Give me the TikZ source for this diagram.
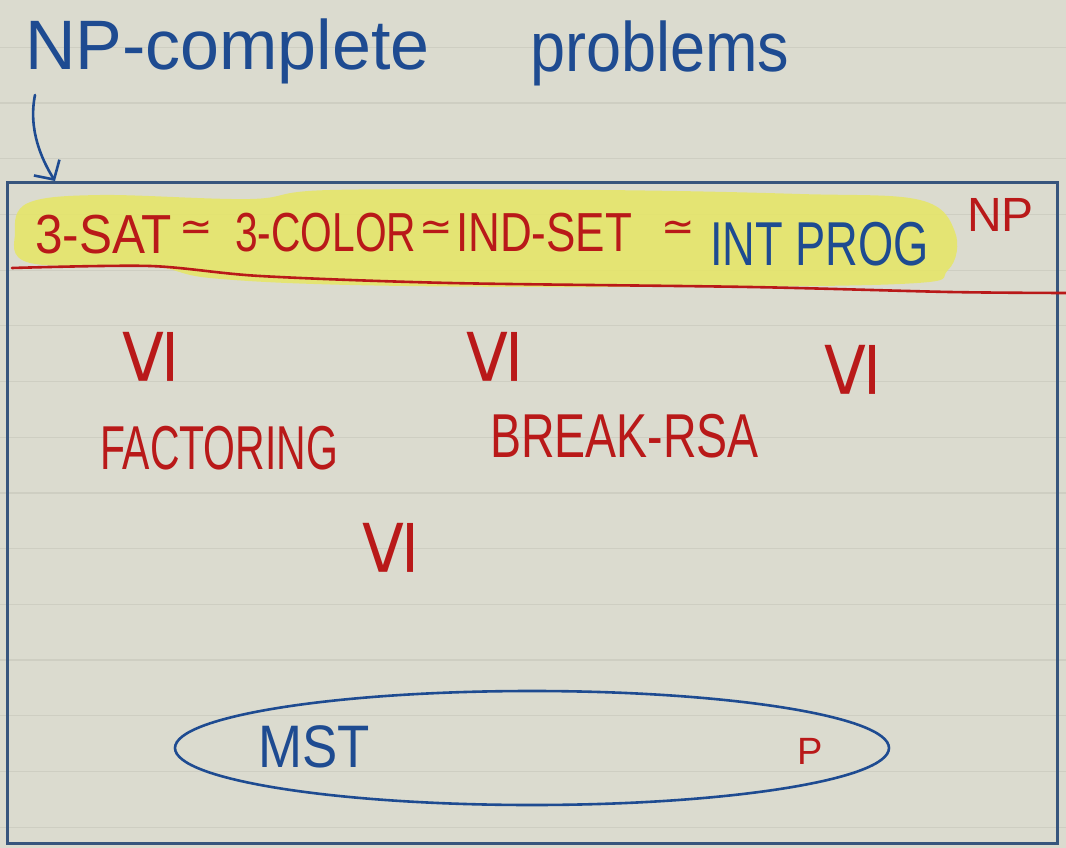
\documentclass[tikz,border=0pt]{standalone}
\usepackage{fontspec}
\setmainfont{Liberation Sans}
\newfontfamily\symf{DejaVu Sans}
\usetikzlibrary{arrows.meta,shapes.geometric}
\definecolor{bg}{RGB}{219,219,207}
\definecolor{rulec}{RGB}{206,206,194}
\definecolor{boxblue}{RGB}{55,85,125}
\definecolor{inkblue}{RGB}{30,75,145}
\definecolor{inkred}{RGB}{185,25,25}
\definecolor{hl}{RGB}{230,230,100}
\newcommand\fsz[1]{\fontsize{#1}{#1}\selectfont}
\begin{document}
\begin{tikzpicture}[x=1pt,y=-1pt,
  redtxt/.style={text=inkred, inner sep=0pt, anchor=west},
  bluetxt/.style={text=inkblue, inner sep=0pt, anchor=west},
  reltxt/.style={text=inkred, inner sep=0pt, font=\symf\fsz{40}},
  leqsym/.style={text=inkred, inner sep=0pt, rotate=90, xscale=1.2, font=\fsz{84}},
  ruleline/.style={draw=rulec, line width=1.2pt},
  inkline/.style={line width=2.6pt, line cap=round}]
\useasboundingbox (0,0) rectangle (1066,848);
\fill[bg] (0,0) rectangle (1066,848);
\foreach \k in {-1,...,13} \draw[ruleline] (0,{103+55.7*\k}) -- (1066,{103+55.7*\k});
% highlight
\fill[hl, opacity=0.85] plot[smooth cycle, tension=0.6] coordinates {
 (15,232) (28,203) (100,195) (250,199) (330,190) (600,190) (800,194)
 (920,200) (955,232) (948,270) (900,284) (600,287) (350,285) (210,278)
 (150,266) (30,263)};
% NP box
\node[draw=boxblue, line width=3pt, minimum width=1050pt, minimum height=660pt, inner sep=0pt] (npbox) at (532,513) {};
% red separating line
\draw[inkred, inkline] plot[smooth, tension=0.5] coordinates {
 (12,268) (150,266) (260,276) (450,283) (750,287) (950,292) (1066,293)};
% title
\node[bluetxt, anchor=base west, font=\fsz{70}] (t1) at (25,70) {NP-complete};
\node[bluetxt, anchor=base west, font=\fsz{70}, xscale=0.9] (t2) at (530,72) {problems};
\coordinate (astart) at (35,95);
\coordinate (aend) at (55,181);
\draw[inkblue, inkline, -{Straight Barb[length=14pt,width=30pt,line width=2.6pt]}]
  (astart) .. controls (28,130) and (42,160) .. (aend);
% top row
\node[redtxt, font=\fsz{55}, xscale=0.9] (sat) at (35,235) {3-SAT};
\node[reltxt] (eq1) at (196,231) {≃};
\node[redtxt, font=\fsz{55}, xscale=0.74] (col) at (235,233) {3-COLOR};
\node[reltxt] (eq2) at (436,231) {≃};
\node[redtxt, font=\fsz{55}, xscale=0.8] (ind) at (456,233) {IND-SET};
\node[reltxt] (eq3) at (678,231) {≃};
\node[bluetxt, font=\fsz{62}, xscale=0.73] (ip) at (710,244) {INT PROG};
\node[redtxt, font=\fsz{48}] (np) at (967,215) {NP};
% reductions
\node[leqsym] (r1) at (148,357) {≤};
\node[leqsym] (r2) at (492,357) {≤};
\node[leqsym] (r3) at (850,370) {≤};
\node[redtxt, font=\fsz{62}, xscale=0.66] (fac) at (100,448) {FACTORING};
\node[redtxt, font=\fsz{62}, xscale=0.75] (rsa) at (490,436) {BREAK-RSA};
\node[leqsym] (r4) at (388,548) {≤};
% P ellipse
\node[ellipse, draw=inkblue, line width=2.6pt, minimum width=714pt, minimum height=114pt, inner sep=0pt] (pset) at (532,748) {};
\node[bluetxt, font=\fsz{60}, xscale=0.88] (mst) at (258,747) {MST};
\node[redtxt, font=\fsz{38}] (p) at (797,751) {P};
\end{tikzpicture}
\end{document}
